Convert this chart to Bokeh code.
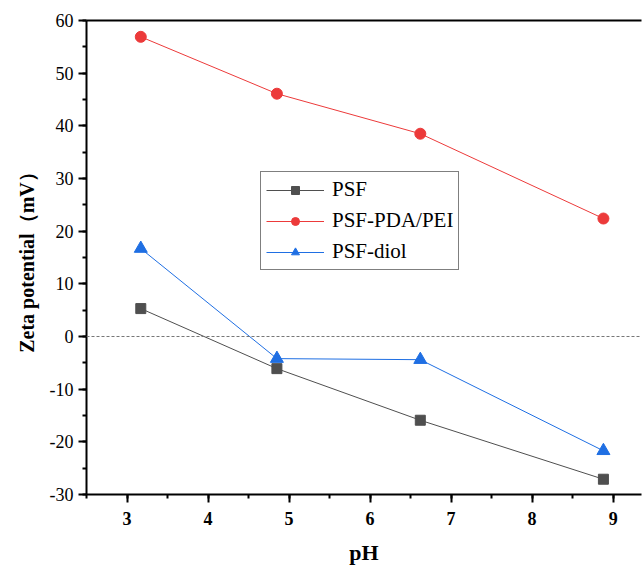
from bokeh.plotting import figure
from bokeh.models import (LinearAxis, Span, Legend, LegendItem, FixedTicker,
                          Range1d)
from bokeh.embed import file_html
from bokeh.resources import INLINE

# pH of each measurement and zeta potentials (mV) of the three membranes
ph = [3.17, 4.85, 6.62, 8.88]
psf = [5.3, -6.1, -15.9, -27.1]
psf_pda_pei = [56.9, 46.1, 38.5, 22.4]
psf_diol = [16.7, -4.2, -4.4, -21.7]

x_ticks = [3, 4, 5, 6, 7, 8, 9]
y_ticks = [-30, -20, -10, 0, 10, 20, 30, 40, 50, 60]
y_tick_labels = {t: str(t) for t in y_ticks}  # plain hyphen-minus

SERIF = "Liberation Serif"

p = figure(width=643, height=570, output_backend="svg", toolbar_location=None,
           x_range=Range1d(2.5, 9.35), y_range=Range1d(-30, 60),
           min_border_left=86, min_border_right=2, min_border_top=20,
           min_border_bottom=76, x_axis_label="pH",
           y_axis_label="Zeta potential（mV）")
p.outline_line_color = None
p.xgrid.visible = False
p.ygrid.visible = False
p.background_fill_color = "white"
p.border_fill_color = "white"

# zero reference line
p.add_layout(Span(location=0, dimension="width", line_color="#777777",
                  line_width=1, line_dash="3 2"))

gray, red, blue = "#4f4f4f", "#ec3a3a", "#1f6fe3"

l1 = p.line(ph, psf, line_color=gray, line_width=1)
m1 = p.scatter(ph, psf, marker="square", size=10, fill_color=gray,
               line_color=gray)
l2 = p.line(ph, psf_pda_pei, line_color=red, line_width=1)
m2 = p.scatter(ph, psf_pda_pei, marker="circle", size=11, fill_color=red,
               line_color=red)
l3 = p.line(ph, psf_diol, line_color=blue, line_width=1)
m3 = p.scatter(ph, psf_diol, marker="triangle", size=13, fill_color=blue,
               line_color=blue)

for ax in (p.xaxis[0], p.yaxis[0]):
    ax.axis_line_width = 2
    ax.major_tick_line_width = 2
    ax.minor_tick_line_width = 2
    ax.major_tick_out = 8
    ax.major_tick_in = 0
    ax.minor_tick_out = 4
    ax.minor_tick_in = 0
    ax.major_label_text_font = SERIF
    ax.major_label_text_font_size = "18px"
    ax.major_label_text_color = "black"
    ax.axis_label_text_font = SERIF
    ax.axis_label_text_font_style = "bold"
    ax.axis_label_text_color = "black"

p.xaxis[0].ticker = FixedTicker(ticks=x_ticks,
                                minor_ticks=[2.5 + 0.5 * i for i in range(14)])
p.yaxis[0].ticker = FixedTicker(ticks=y_ticks,
                                minor_ticks=list(range(-30, 61, 5)))
p.yaxis[0].major_label_overrides = y_tick_labels
p.xaxis[0].major_label_text_font_style = "bold"
p.xaxis[0].major_label_standoff = 9
p.xaxis[0].axis_label_text_font_size = "22px"
p.xaxis[0].axis_label_standoff = 12
p.yaxis[0].major_label_standoff = 5
p.yaxis[0].axis_label_text_font_size = "20px"
p.yaxis[0].axis_label_standoff = 9

# top frame line only (no right border)
top = LinearAxis(axis_line_width=2, major_tick_line_color=None,
                 minor_tick_line_color=None, major_label_text_font_size="0px",
                 major_label_standoff=0, ticker=FixedTicker(ticks=[]))
p.add_layout(top, "above")

legend = Legend(items=[
    LegendItem(label="PSF", renderers=[l1, m1]),
    LegendItem(label="PSF-PDA/PEI", renderers=[l2, m2]),
    LegendItem(label="PSF-diol", renderers=[l3, m3]),
], location=(174, 224))
legend.label_text_font = SERIF
legend.label_text_font_size = "21px"
legend.label_text_color = "black"
legend.glyph_width = 58
legend.glyph_height = 20
legend.label_height = 20
legend.spacing = 6
legend.padding = 5
legend.margin = 0
legend.label_standoff = 8
legend.border_line_color = "black"
legend.border_line_width = 1
legend.background_fill_alpha = 1
p.add_layout(legend)

open("out.html", "w").write(file_html(p, INLINE))
